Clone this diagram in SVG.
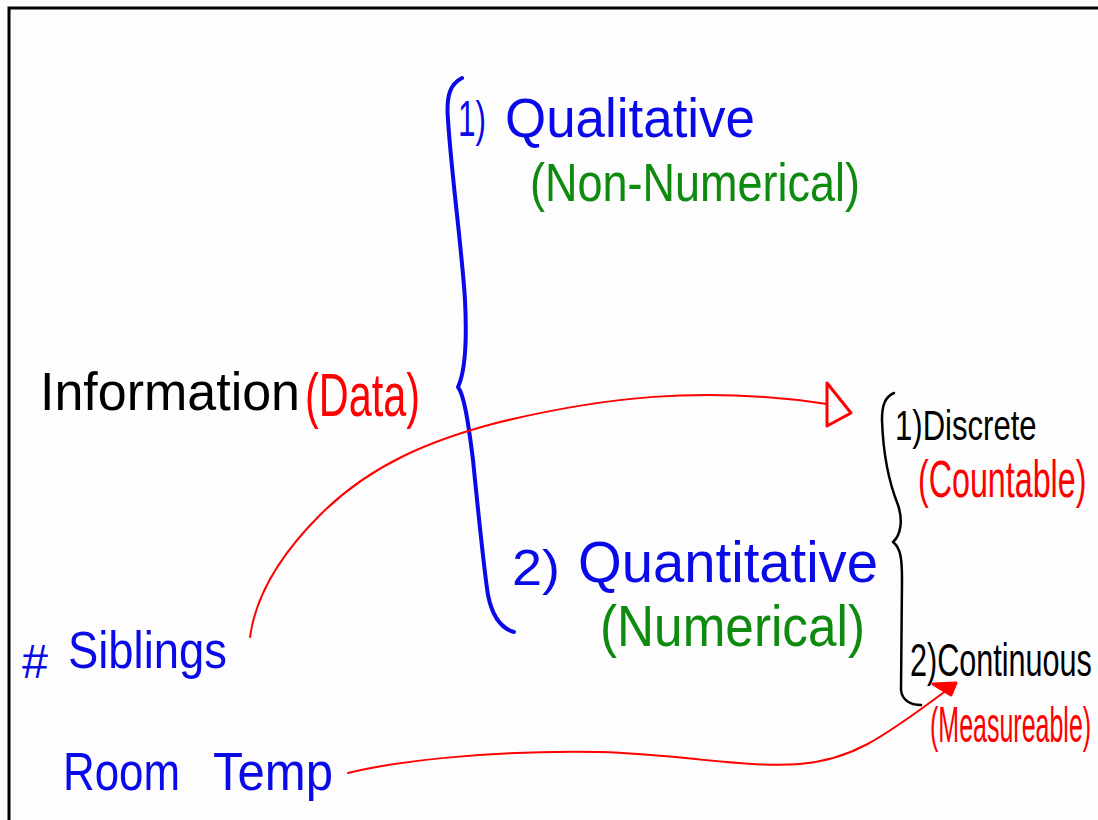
<svg xmlns="http://www.w3.org/2000/svg" width="1098" height="820" viewBox="0 0 1098 820">
<style>
text{font-family:"Liberation Sans","DejaVu Sans",sans-serif;}
.blk{fill:#000;}
.blu{fill:#0a0ae8;}
.grn{fill:#0e8a0e;}
.red{fill:#ff0000;}
.brace{fill:none;stroke-linecap:round;stroke-linejoin:round;}
.conn{fill:none;stroke:#ff0000;stroke-width:2;stroke-linecap:round;}
</style>
<rect width="1098" height="820" fill="#fdfdfd"/>
<g id="frame">
<path d="M9 820 V8 H1098" fill="none" stroke="#000" stroke-width="3"/>
</g>
<g id="information">
<text class="blk" x="40" y="410" font-size="54" textLength="260" lengthAdjust="spacingAndGlyphs">Information</text>
<text class="red" x="305" y="416" font-size="62" textLength="115" lengthAdjust="spacingAndGlyphs">(Data)</text>
</g>
<g id="brace-main">
<path class="brace" stroke="#0a0ae8" stroke-width="4" d="M462 78 C450 84 446 96 448 120 C452 180 462 250 465 300 C467 340 466 370 458 387 C464 395 468 420 473 460 C478 510 484 570 488 595 C492 615 500 628 514 632"/>
</g>
<g id="qualitative">
<text class="blu" x="458" y="136" font-size="50" textLength="28" lengthAdjust="spacingAndGlyphs">1)</text>
<text class="blu" x="505" y="137" font-size="56" textLength="250" lengthAdjust="spacingAndGlyphs">Qualitative</text>
<text class="grn" x="530" y="201" font-size="54" textLength="330" lengthAdjust="spacingAndGlyphs">(Non-Numerical)</text>
</g>
<g id="quantitative">
<text class="blu" x="512" y="585" font-size="50" textLength="48" lengthAdjust="spacingAndGlyphs">2)</text>
<text class="blu" x="578" y="582" font-size="58" textLength="300" lengthAdjust="spacingAndGlyphs">Quantitative</text>
<text class="grn" x="600" y="646" font-size="58" textLength="265" lengthAdjust="spacingAndGlyphs">(Numerical)</text>
</g>
<g id="brace-sub">
<path class="brace" stroke="#000" stroke-width="2.5" d="M894 393 C885 397 882 405 882 420 C883 450 888 480 898 505 C903 520 901 535 893 542 C901 548 902 560 902 580 L901 690 C902 700 910 705 921 705"/>
</g>
<g id="discrete">
<text class="blk" transform="translate(895,440) scale(0.74,1)" font-size="42">1)Discrete</text>
<text class="red" transform="translate(918,497) scale(0.62,1)" font-size="52">(Countable)</text>
</g>
<g id="continuous">
<text class="blk" transform="translate(910,676) scale(0.665,1)" font-size="46">2)Continuous</text>
<text class="red" transform="translate(930,742) scale(0.5,1)" font-size="50">(Measureable)</text>
</g>
<g id="siblings">
<text class="blu" x="22" y="678" font-size="48" textLength="26" lengthAdjust="spacingAndGlyphs">#</text>
<text class="blu" x="68" y="668" font-size="52" textLength="159" lengthAdjust="spacingAndGlyphs">Siblings</text>
</g>
<g id="roomtemp">
<text class="blu" x="63" y="790" font-size="54" textLength="117" lengthAdjust="spacingAndGlyphs">Room</text>
<text class="blu" x="213" y="790" font-size="54" textLength="120" lengthAdjust="spacingAndGlyphs">Temp</text>
</g>
<g id="connectors">
<path class="conn" d="M250 637 C255 600 275 560 320 515 C370 465 430 440 500 422 C600 398 700 385 827 404"/>
<path d="M827 383 L827 426 L851 413 Z" fill="none" stroke="#ff0000" stroke-width="3" stroke-linejoin="round"/>
<path class="conn" d="M348 773 C400 760 500 750 600 752 C680 754 740 768 800 764 C850 760 880 740 947 690"/>
<path d="M933 684 L956 683 L951 695 Z" fill="#ff0000" stroke="#ff0000" stroke-width="3" stroke-linejoin="round"/>
</g>
</svg>
